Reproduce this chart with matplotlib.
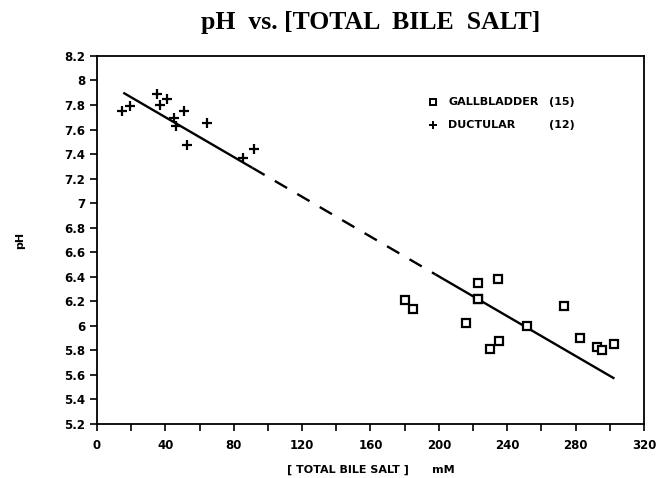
import numpy as np
import matplotlib
matplotlib.use("Agg")
import matplotlib.pyplot as plt

# ductular bile (+)
duct_x = [14.8, 19.3, 34.9, 36.9, 41.0, 45.2, 46.2, 51.1, 52.8, 64.5, 85.3, 91.7]
duct_ph = [7.75, 7.79, 7.89, 7.80, 7.85, 7.69, 7.63, 7.75, 7.47, 7.65, 7.37, 7.44]

# gallbladder bile (squares)
gb_x = [180.0, 184.9, 215.9, 222.8, 222.8, 222.8, 230.0, 234.6, 235.0,
        251.4, 273.4, 282.8, 292.7, 295.7, 302.7]
gb_ph = [6.21, 6.14, 6.02, 6.35, 6.22, 6.22, 5.81, 6.38, 5.88,
         6.00, 6.16, 5.90, 5.83, 5.80, 5.85]

# regression line pH = a + b * x, drawn solid / dashed / solid
fit_a = 8.025
fit_b = -0.00811
solid_1 = (15.4, 90.9)
dashed = (90.9, 198.0)
solid_2 = (198.0, 302.7)

x_ticks = np.arange(0, 321, 40)
y_ticks = np.round(np.arange(5.2, 8.21, 0.2), 1)

plt.rcParams["font.family"] = ["DejaVu Sans"]

fig = plt.figure(figsize=(6.66, 4.78), dpi=100)
ax = fig.add_axes([0.1456, 0.113, 0.8214, 0.770])


def fit_seg(rng):
    xs = np.array(rng)
    return xs, fit_a + fit_b * xs


for rng, ls in [(solid_1, "-"), (dashed, (0, (6, 5))), (solid_2, "-")]:
    xs, ys = fit_seg(rng)
    ax.plot(xs, ys, color="black", lw=1.7, ls=ls, solid_capstyle="butt")

ax.plot(gb_x, gb_ph, ls="none", marker="s", ms=5.5, mfc="white",
        mec="black", mew=1.6)
ax.plot(duct_x, duct_ph, ls="none", marker="+", ms=7, mec="black", mew=1.6)

ax.set_xlim(0, 320)
ax.set_ylim(5.2, 8.2)
ax.set_xticks(x_ticks)
ax.set_xticks(np.arange(0, 321, 20), minor=True)
ax.set_yticks(y_ticks)
ax.set_yticklabels([f"{v:g}" for v in y_ticks])
ax.tick_params(axis="both", which="both", direction="out", length=5,
               width=1.2, labelsize=8.5)
ax.tick_params(axis="x", pad=6)
for lab in ax.get_xticklabels() + ax.get_yticklabels():
    lab.set_fontweight("bold")
for sp in ax.spines.values():
    sp.set_linewidth(1.3)

ax.set_xlabel("[ TOTAL BILE SALT ]      mM", fontsize=8, fontweight="bold",
              labelpad=9)
ax.set_ylabel("pH", fontsize=8, fontweight="bold", labelpad=28)

fig.text(0.556, 0.952, "pH  vs. [TOTAL  BILE  SALT]", ha="center",
         va="center", fontsize=18.5, fontweight="bold",
         family=["Liberation Serif", "DejaVu Serif"])

# hand-drawn style legend
ax.plot([0.614], [0.875], transform=ax.transAxes, marker="s", ms=5,
        mfc="white", mec="black", mew=1.4, ls="none")
ax.plot([0.614], [0.812], transform=ax.transAxes, marker="+", ms=6,
        mec="black", mew=1.4, ls="none")
ax.text(0.642, 0.875, "GALLBLADDER", transform=ax.transAxes, va="center",
        fontsize=8, fontweight="bold")
ax.text(0.642, 0.812, "DUCTULAR", transform=ax.transAxes, va="center",
        fontsize=8, fontweight="bold")
ax.text(0.826, 0.875, "(15)", transform=ax.transAxes, va="center",
        fontsize=8, fontweight="bold")
ax.text(0.826, 0.812, "(12)", transform=ax.transAxes, va="center",
        fontsize=8, fontweight="bold")

fig.savefig("out.png", dpi=100)
